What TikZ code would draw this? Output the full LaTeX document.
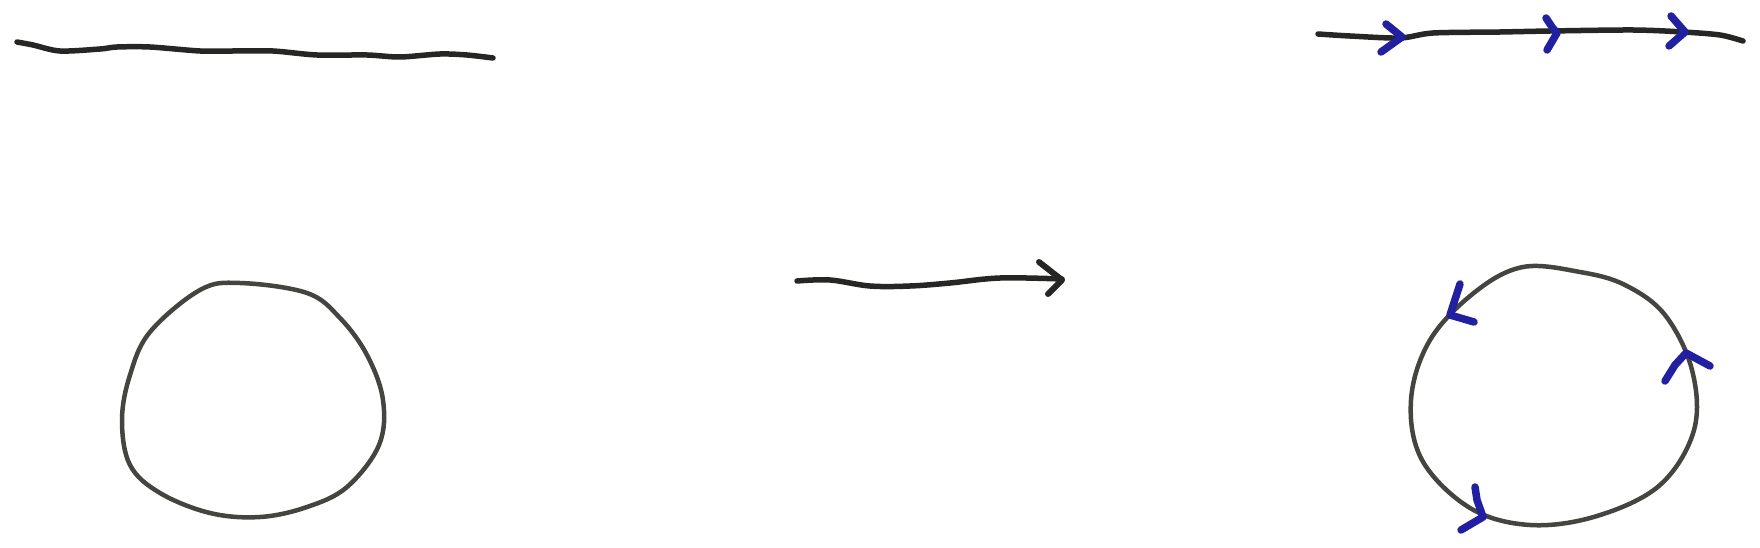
\documentclass[tikz,border=0pt]{standalone}
\usetikzlibrary{calc}
\definecolor{pencil}{HTML}{262624}
\definecolor{pencilgray}{HTML}{444441}
\definecolor{ink}{HTML}{2020A0}
\tikzset{
  stroke/.style={draw=pencil, line width=5.5pt, line cap=round, line join=round},
  loopstroke/.style={draw=pencilgray, line width=4.5pt, line cap=round, line join=round},
  tip/.style={draw=ink, line width=7.5pt, line cap=round, line join=round},
  headstroke/.style={draw=pencil, line width=6pt, line cap=round, line join=round}
}
\begin{document}
\begin{tikzpicture}[x=1pt,y=-1pt]
\useasboundingbox[fill=white] (0,0) rectangle (1760,548);

% left straight line
\draw[stroke] plot[smooth, tension=0.5] coordinates {
 (17,42) (33,45) (60,51) (100,49) (117,47) (150,47) (200,51) (233,51)
 (273,51) (317,55) (367,55) (400,57) (440,54) (467,55) (493,58)};

% left circle
\draw[loopstroke] plot[smooth cycle, tension=0.6] coordinates {
 (240,283) (307,293) (340,318) (367,355) (383,400) (379,445) (347,487)
 (307,507) (260,517) (210,513) (160,493) (130,465) (122,420) (130,375)
 (150,332) (200,290)};

% middle arrow
\coordinate (mstart) at (797,281);
\coordinate (mtip) at (1062,280);
\coordinate (mup) at (1039,262);
\coordinate (mdown) at (1048,294);
\draw[stroke] plot[smooth, tension=0.6] coordinates {
 (797,281) (830,280) (870,286) (910,286) (950,283) (1000,278) (1062,279)};
\draw[headstroke] (mup) -- (mtip) -- (mdown);

% right straight line with arrows
\draw[stroke] plot[smooth, tension=0.5] coordinates {
 (1318,34) (1350,36) (1400,38) (1433,33) (1500,32) (1550,31) (1633,30)
 (1683,32) (1720,35) (1743,41)};
\coordinate (a1) at (1402,37);
\coordinate (a2) at (1557,33);
\coordinate (a3) at (1685,32);
\draw[tip] (1386,24) -- (a1) -- (1381,52);
\draw[tip] (1546,18) -- (1552,27) -- (a2) -- (1547,50);
\draw[tip] (1671,16) -- (a3) -- (1669,46);

% right circle with arrows
\draw[loopstroke] plot[smooth cycle, tension=0.6] coordinates {
 (1523,267) (1580,272) (1625,285) (1665,315) (1692,370) (1694,430)
 (1660,485) (1597,516) (1530,525) (1470,508) (1422,460) (1411,400)
 (1430,340) (1475,292)};
\coordinate (c1) at (1450,315);
\coordinate (c2) at (1686,353);
\coordinate (c3) at (1483,517);
\draw[tip] (1460,284) -- (c1) -- (1474,322);
\draw[tip] (1665,381) -- (1675,365) -- (c2) -- (1710,366);
\draw[tip] (1475,487) -- (1477,500) -- (c3) -- (1461,530);
\end{tikzpicture}
\end{document}
